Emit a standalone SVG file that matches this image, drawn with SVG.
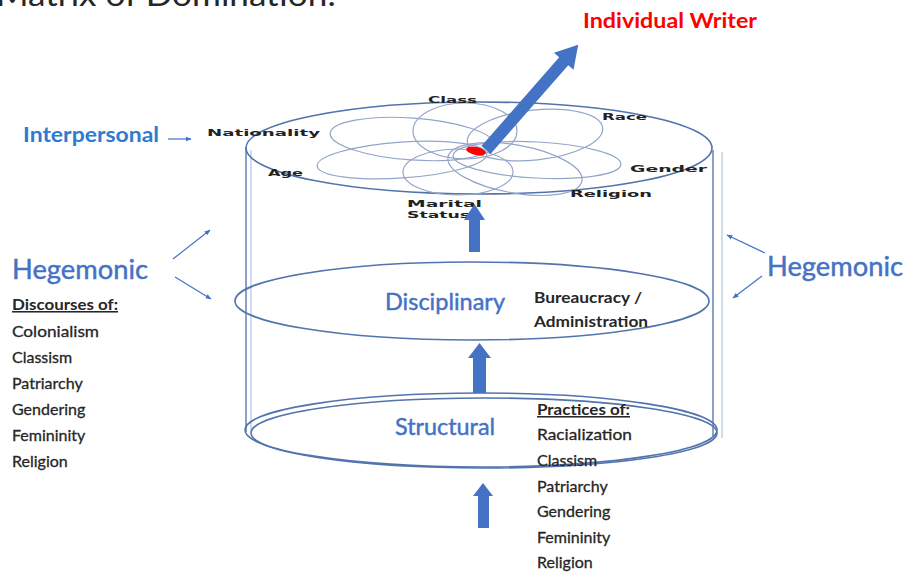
<svg xmlns="http://www.w3.org/2000/svg" width="905" height="576" viewBox="0 0 905 576">
<defs>
<style>
.bg{fill:#ffffff}
.lbl{font-family:Lato,"Liberation Sans",sans-serif}
.blue{fill:#4472C4;stroke:#4472C4;stroke-width:0.45}
.ipb{fill:#2E7BCF;font-weight:bold}
.dark{fill:#262626}
.item{font-size:16px;fill:#262626;stroke:#262626;stroke-width:0.3}
.head{font-size:15.5px;font-weight:bold;fill:#262626;text-decoration:underline}
.petal{font-family:"DejaVu Sans","Liberation Sans",sans-serif;font-weight:bold;font-size:8.5px;fill:#222}
.rim{fill:none;stroke:#5274AD;stroke-width:1.6}
.pet{fill:none;stroke:#93A5C9;stroke-width:1.2}
.side{fill:none;stroke:#8097C2;stroke-width:1.8}
.side2{fill:none;stroke:#C7D2E8;stroke-width:1.6}
.barrow{fill:#4472C4}
.thin{stroke:#4472C4;stroke-width:1.2;fill:none}
</style>
<marker id="ah" viewBox="0 0 10 10" refX="9" refY="5" markerWidth="5" markerHeight="5" orient="auto">
<path d="M0,1 L10,5 L0,9 z" fill="#4472C4"/>
</marker>
</defs>
<rect class="bg" x="0" y="0" width="905" height="576"/>

<g id="title">
<text class="lbl dark" x="-4" y="6" font-size="30" textLength="340" lengthAdjust="spacingAndGlyphs">Matrix of Domination:</text>
</g>

<g id="cylinder">
<line class="side" x1="246" y1="147" x2="246" y2="432"/>
<line class="side2" x1="251" y1="150" x2="251" y2="430"/>
<line class="side" x1="713" y1="150" x2="713" y2="436" stroke-width="2.4"/>
<line class="side2" x1="722" y1="152" x2="722" y2="438"/>
</g>

<g id="structural">
<ellipse class="rim" cx="481" cy="430" rx="236" ry="37"/>
<ellipse class="rim" cx="484" cy="433" rx="233" ry="35" stroke-width="1.2"/>
<text class="lbl blue" x="395" y="435" font-size="23" textLength="100" lengthAdjust="spacingAndGlyphs">Structural</text>
</g>

<g id="disciplinary">
<ellipse class="rim" cx="472" cy="301" rx="237" ry="39"/>
<text class="lbl blue" x="385" y="310" font-size="23" textLength="120" lengthAdjust="spacingAndGlyphs">Disciplinary</text>
<text class="lbl dark" x="534" y="303" font-size="15" font-weight="bold" textLength="108" lengthAdjust="spacingAndGlyphs">Bureaucracy /</text>
<text class="lbl dark" x="534" y="327" font-size="15" font-weight="bold" textLength="114" lengthAdjust="spacingAndGlyphs">Administration</text>
</g>

<g id="interpersonal-plane">
<ellipse class="rim" cx="479" cy="148" rx="233" ry="46"/>
<ellipse class="pet" cx="465" cy="131" rx="52" ry="28"/>
<ellipse class="pet" cx="458" cy="172" rx="55" ry="23"/>
<ellipse class="pet" cx="535" cy="135" rx="68" ry="25" transform="rotate(-6 535 135)"/>
<ellipse class="pet" cx="412" cy="139" rx="82" ry="21" transform="rotate(4 412 139)"/>
<ellipse class="pet" cx="402" cy="160" rx="85" ry="18" transform="rotate(-4 402 160)"/>
<ellipse class="pet" cx="537" cy="160" rx="84" ry="18" transform="rotate(3 537 160)"/>
<ellipse class="pet" cx="515" cy="169" rx="68" ry="24" transform="rotate(10 515 169)"/>
<ellipse cx="476" cy="151" rx="10" ry="4" fill="#FF0000" transform="rotate(12 476 151)"/>
<text class="petal" x="428" y="103" textLength="49" lengthAdjust="spacingAndGlyphs">Class</text>
<text class="petal" x="602" y="120" textLength="45" lengthAdjust="spacingAndGlyphs">Race</text>
<text class="petal" x="207" y="136" textLength="113" lengthAdjust="spacingAndGlyphs">Nationality</text>
<text class="petal" x="268" y="176" textLength="35" lengthAdjust="spacingAndGlyphs">Age</text>
<text class="petal" x="630" y="172" textLength="77" lengthAdjust="spacingAndGlyphs">Gender</text>
<text class="petal" x="570" y="197" textLength="82" lengthAdjust="spacingAndGlyphs">Religion</text>
<text class="petal" x="407" y="207" textLength="75" lengthAdjust="spacingAndGlyphs">Marital</text>
<text class="petal" x="407" y="218" textLength="63" lengthAdjust="spacingAndGlyphs">Status</text>
</g>

<g id="individual-writer">
<text class="lbl" x="583" y="28" font-size="20" font-weight="bold" fill="#FF0000" textLength="174" lengthAdjust="spacingAndGlyphs">Individual Writer</text>
</g>

<g id="interpersonal-label">
<text class="lbl ipb" x="23" y="142" font-size="21" textLength="136" lengthAdjust="spacingAndGlyphs">Interpersonal</text>
</g>

<g id="hegemonic-left">
<text class="lbl blue" x="12" y="279" font-size="27" textLength="136" lengthAdjust="spacingAndGlyphs">Hegemonic</text>
<text class="lbl head" x="12" y="310" textLength="106" lengthAdjust="spacingAndGlyphs">Discourses of:</text>
<text class="lbl item" x="12" y="337" textLength="87" lengthAdjust="spacingAndGlyphs">Colonialism</text>
<text class="lbl item" x="12" y="363">Classism</text>
<text class="lbl item" x="12" y="389">Patriarchy</text>
<text class="lbl item" x="12" y="415">Gendering</text>
<text class="lbl item" x="12" y="441">Femininity</text>
<text class="lbl item" x="12" y="467">Religion</text>
</g>

<g id="hegemonic-right">
<text class="lbl blue" x="767" y="276" font-size="27" textLength="136" lengthAdjust="spacingAndGlyphs">Hegemonic</text>
</g>

<g id="structural-practices">
<text class="lbl head" x="537" y="415" textLength="93" lengthAdjust="spacingAndGlyphs">Practices of:</text>
<text class="lbl item" x="537" y="440" textLength="95" lengthAdjust="spacingAndGlyphs">Racialization</text>
<text class="lbl item" x="537" y="466">Classism</text>
<text class="lbl item" x="537" y="492">Patriarchy</text>
<text class="lbl item" x="537" y="517">Gendering</text>
<text class="lbl item" x="537" y="543">Femininity</text>
<text class="lbl item" x="537" y="568">Religion</text>
</g>

<g id="connectors">
<polygon class="barrow" points="0,-6 118,-6 118,-13 140,0 118,13 118,6 0,6" transform="translate(486 150) rotate(-48.8)"/>
<polygon class="barrow" points="469,252 469,220 464,220 474.5,204 485,220 480,220 480,252"/>
<polygon class="barrow" points="473,393 473,358 468,358 479.5,343 491,358 486,358 486,393"/>
<polygon class="barrow" points="478,528 478,496 473,496 483,483 493,496 489,496 489,528"/>
<line class="thin" x1="168" y1="139" x2="191" y2="139" marker-end="url(#ah)"/>
<line class="thin" x1="173" y1="259" x2="210" y2="230" marker-end="url(#ah)"/>
<line class="thin" x1="175" y1="277" x2="211" y2="299" marker-end="url(#ah)"/>
<line class="thin" x1="765" y1="253" x2="727" y2="235" marker-end="url(#ah)"/>
<line class="thin" x1="762" y1="276" x2="733" y2="298" marker-end="url(#ah)"/>
</g>
</svg>
